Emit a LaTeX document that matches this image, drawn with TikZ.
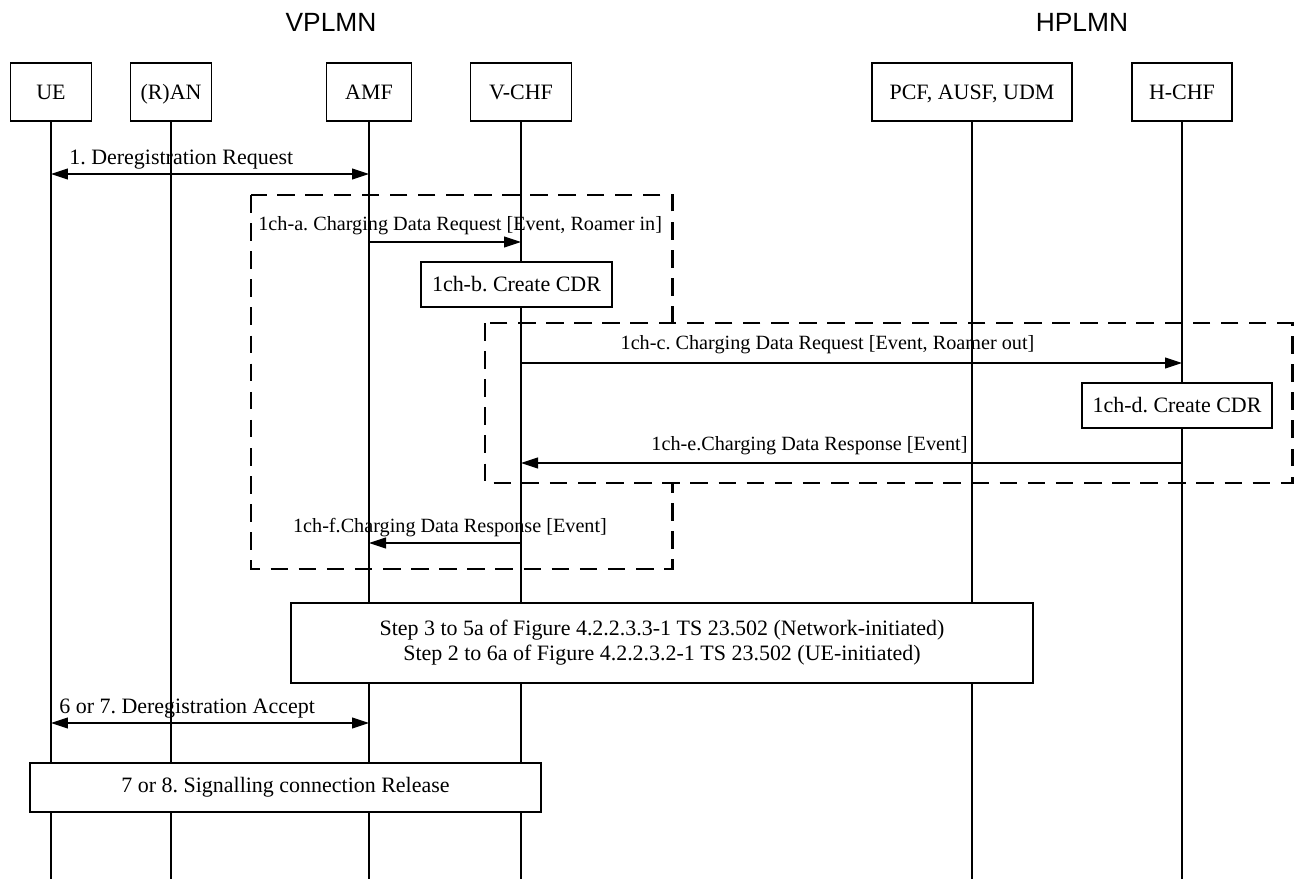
\documentclass[tikz,border=0pt]{standalone}
\usepackage{fontspec}
\setmainfont{Liberation Serif}
\newfontfamily\plmnfont{Liberation Sans}
\usetikzlibrary{arrows.meta}
\newcommand{\pxu}{0.02cm}
\frenchspacing

\begin{document}
\begin{tikzpicture}[x=0.02cm, y=-0.02cm,
		>={Triangle[length=0.34cm, width=0.22cm]},
		plmn/.style={inner sep=0pt, font=\plmnfont\fontsize{15}{18}\selectfont},
		entity/.style={draw, line width=0.6pt, fill=white, inner sep=0pt, minimum height=58*\pxu, text height=9pt, text depth=1pt, font=\fontsize{12.5}{15}\selectfont},
		action/.style={draw, line width=0.6pt, fill=white, inner sep=0pt, font=\fontsize{12.5}{14.2}\selectfont},
		life/.style={line width=0.6pt},
		msg/.style={line width=0.6pt},
		lbl/.style={inner sep=0pt, font=\fontsize{12.5}{15}\selectfont},
		chlbl/.style={inner sep=0pt, font=\fontsize{11.5}{14}\selectfont},
		group/.style={line width=1.7pt, dash pattern=on 10pt off 6pt}]
		\useasboundingbox (0,0) rectangle (1302,879);
		\node[plmn] (vplmn) at (331,22) {VPLMN};
		\node[plmn] (hplmn) at (1082,22) {HPLMN};
		\node[entity, minimum width=81*\pxu] (ue) at (51,92) {UE};
		\node[entity, minimum width=81*\pxu] (ran) at (171,92) {(R)AN};
		\node[entity, minimum width=85*\pxu] (amf) at (369,92) {AMF};
		\node[entity, minimum width=101*\pxu] (vchf) at (521,92) {V-CHF};
		\node[entity, minimum width=200*\pxu] (nfs) at (972,92) {PCF, AUSF, UDM};
		\node[entity, minimum width=100*\pxu] (hchf) at (1182,92) {H-CHF};
		\coordinate (bot) at (0,879);
		\coordinate (r1) at (0,174);
		\coordinate (r2) at (0,242);
		\coordinate (r3) at (0,363);
		\coordinate (r4) at (0,463);
		\coordinate (r5) at (0,543);
		\coordinate (r6) at (0,723);
		\draw[group] (251,195) rectangle (672,569);
		\draw[group, fill=white] (485,323) rectangle (1292,483);
		\foreach \n in {ue,ran,amf,vchf,nfs,hchf}
			\draw[life] (\n.south) -- (\n |- bot);
		\draw[msg, <->] (ue |- r1) -- (amf |- r1);
		\node[lbl, anchor=base west] (l1) at (69,164) {1. Deregistration Request};
		\draw[msg, ->] (amf |- r2) -- (vchf |- r2);
		\node[chlbl, anchor=base west] (l2) at (258,230) {1ch-a. Charging Data Request [Event, Roamer in]};
		\node[action, minimum width=191*\pxu, minimum height=45*\pxu] (cdrv) at (516.5,284.5) {1ch-b. Create CDR};
		\draw[msg, ->] (vchf |- r3) -- (hchf |- r3);
		\node[chlbl, anchor=base] (l3) at (827.5,349) {1ch-c. Charging Data Request [Event, Roamer out]};
		\node[action, minimum width=190*\pxu, minimum height=45*\pxu] (cdrh) at (1177,405.5) {1ch-d. Create CDR};
		\draw[msg, ->] (hchf |- r4) -- (vchf |- r4);
		\node[chlbl, anchor=base] (l4) at (809.5,450) {1ch-e.Charging Data Response [Event]};
		\draw[msg, ->] (vchf |- r5) -- (amf |- r5);
		\node[chlbl, anchor=base] (l5) at (450,532) {1ch-f.Charging Data Response [Event]};
		\node[action, minimum width=742*\pxu, minimum height=80*\pxu, align=center] (steps) at (662,643)
			{Step 3 to 5a of Figure 4.2.2.3.3-1 TS 23.502 (Network-initiated)\\Step 2 to 6a of Figure 4.2.2.3.2-1 TS 23.502 (UE-initiated)};
		\draw[msg, <->] (ue |- r6) -- (amf |- r6);
		\node[lbl, anchor=base west] (l6) at (59,713) {6 or 7. Deregistration Accept};
		\node[action, minimum width=511*\pxu, minimum height=49*\pxu] (release) at (285.5,787.5) {7 or 8. Signalling connection Release};
	\end{tikzpicture}
\end{document}
